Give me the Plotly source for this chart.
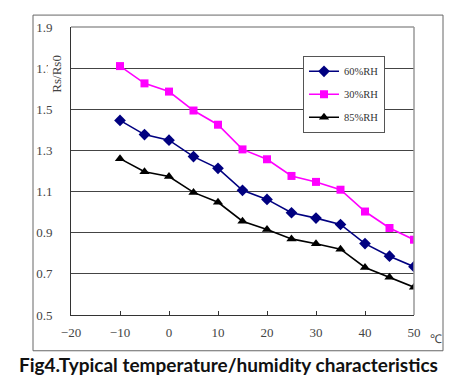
import plotly.graph_objects as go

temps = [-10, -5, 0, 5, 10, 15, 20, 25, 30, 35, 40, 45, 50]
rh60 = [1.446, 1.377, 1.35, 1.27, 1.213, 1.106, 1.062, 0.997, 0.971, 0.94, 0.847, 0.786, 0.735]
rh30 = [1.71, 1.626, 1.586, 1.494, 1.425, 1.305, 1.257, 1.176, 1.147, 1.109, 1.003, 0.923, 0.866]
rh85 = [1.26, 1.196, 1.173, 1.096, 1.048, 0.956, 0.916, 0.87, 0.846, 0.82, 0.731, 0.683, 0.635]
series_names = ["60%RH", "30%RH", "85%RH"]
x_ticks = [-20, -10, 0, 10, 20, 30, 40, 50]
y_ticks = [0.5, 0.7, 0.9, 1.1, 1.3, 1.5, 1.7, 1.9]

serif = "Liberation Serif"
fig = go.Figure()
styles = [
    (rh60, "#000080", "diamond", 9),
    (rh30, "#FF00FF", "square", 8),
    (rh85, "#000000", "triangle-up", 9),
]
for name, (vals, col, sym, sz) in zip(series_names, styles):
    fig.add_trace(go.Scatter(
        x=temps, y=vals, name=name, mode="lines+markers",
        line=dict(color=col, width=1.6),
        marker=dict(symbol=sym, size=sz, color=col),
        legendgroup=name,
    ))

W, H = 456, 376
L, R, T, B = 63, 50, 17, 69
pw, ph = W - L - R, H - T - B

def px(x):
    return (x - L) / pw

def py(y):
    return (H - B - y) / ph

fig.update_layout(
    width=W, height=H,
    margin=dict(l=L, r=R, t=T, b=B),
    paper_bgcolor="white", plot_bgcolor="white",
    showlegend=True,
    legend=dict(
        x=px(295), y=py(46), xanchor="left", yanchor="top",
        bordercolor="#555", borderwidth=1, bgcolor="white",
        font=dict(family=serif, size=10.5, color="#333"),
        tracegroupgap=4, traceorder="grouped", itemwidth=30,
    ),
    xaxis=dict(
        range=[-20, 50], tickvals=x_ticks, ticks="inside", ticklen=4,
        tickcolor="#333", showgrid=False, zeroline=False,
        showline=True, linecolor="#333", linewidth=1,
        ticklabelstandoff=5,
        tickfont=dict(family=serif, size=13, color="#444"),
    ),
    yaxis=dict(
        range=[0.5, 1.9], tickvals=y_ticks, ticktext=[f"{v:.1f}" for v in y_ticks],
        showgrid=True, gridcolor="#444", gridwidth=1, zeroline=False,
        showline=True, linecolor="#333", linewidth=1, ticks="",
        ticklabelstandoff=15,
        tickfont=dict(family=serif, size=13, color="#444"),
    ),
    shapes=[
        dict(type="rect", xref="paper", yref="paper",
             x0=px(25), x1=px(435), y0=py(343), y1=py(5),
             line=dict(color="#666", width=1), layer="below"),
        dict(type="line", xref="paper", yref="paper", x0=0, x1=1, y0=1, y1=1,
             line=dict(color="#999", width=1.5)),
        dict(type="line", xref="paper", yref="paper", x0=1, x1=1, y0=0, y1=1,
             line=dict(color="#999", width=1.5)),
    ],
    annotations=[
        dict(text="Rs/Rs0", xref="paper", yref="paper", x=px(49), y=py(64),
             xanchor="center", yanchor="middle",
             textangle=-90, showarrow=False, bgcolor="white",
             font=dict(family=serif, size=13, color="#444")),
        dict(text="℃", xref="paper", yref="paper", x=px(428), y=py(331),
             xanchor="center", yanchor="middle",
             showarrow=False, font=dict(family=serif, size=12, color="#444")),
        dict(text="<b>Fig4.Typical temperature/humidity characteristics</b>",
             xref="paper", yref="paper", x=px(220), y=py(357),
             xanchor="center", yanchor="middle",
             showarrow=False, font=dict(family="Lato", size=19, color="#111")),
    ],
)

fig.write_html("out.html")
